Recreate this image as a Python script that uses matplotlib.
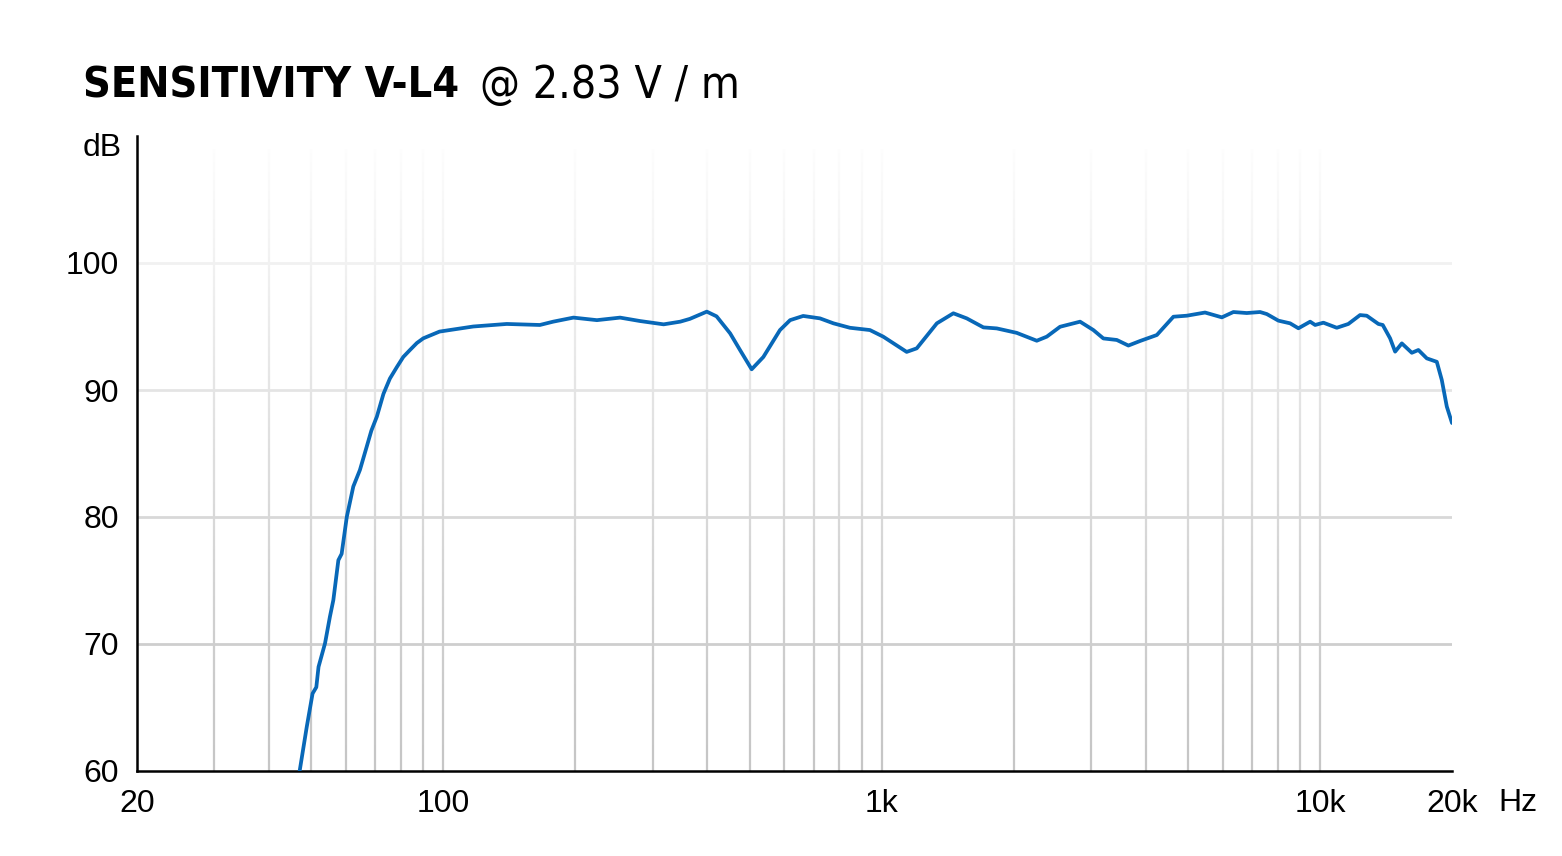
import numpy as np
import matplotlib
matplotlib.use('Agg')
import matplotlib.pyplot as plt

# Frequency response (Hz, dB)
freq = [47, 48.8, 50.3, 51.3, 51.9, 53.7, 55.1, 56.1, 57.6, 58.6, 60.2, 62.3,
        64.5, 66.8, 68.5, 70.5, 73, 75.5, 78.3, 81, 83.9, 87, 90, 98, 117,
        139.5, 166, 178, 198, 224, 253, 281, 318, 347, 365, 399, 420, 451, 475,
        505, 537, 586, 618, 662, 723, 776, 846, 940, 1008, 1140, 1202, 1336,
        1457, 1563, 1706, 1830, 2032, 2258, 2380, 2552, 2835, 3040, 3204,
        3438, 3654, 3886, 4243, 4629, 4965, 5466, 5970, 6343, 6804, 7298,
        7560, 8036, 8544, 8926, 9493, 9746, 10178, 10918, 11602, 12338, 12780,
        13588, 13900, 14448, 14834, 15366, 16194, 16764, 17522, 18464, 18952,
        19460, 20000]
spl = [60.0, 63.5, 66.1, 66.6, 68.2, 70.05, 72.15, 73.46, 76.6, 77.1, 80.0,
       82.4, 83.7, 85.5, 86.8, 87.9, 89.7, 90.9, 91.8, 92.6, 93.15, 93.7,
       94.07, 94.6, 95.0, 95.2, 95.12, 95.38, 95.7, 95.5, 95.7, 95.43, 95.17,
       95.38, 95.6, 96.17, 95.8, 94.46, 93.15, 91.63, 92.6, 94.72, 95.5, 95.83,
       95.64, 95.25, 94.9, 94.72, 94.2, 93.0, 93.28, 95.25, 96.04, 95.64,
       94.93, 94.85, 94.5, 93.88, 94.2, 94.98, 95.38, 94.72, 94.06, 93.94,
       93.5, 93.86, 94.33, 95.77, 95.85, 96.1, 95.72, 96.14, 96.06, 96.14,
       95.98, 95.46, 95.25, 94.86, 95.38, 95.12, 95.3, 94.9, 95.2, 95.9, 95.85,
       95.2, 95.12, 94.07, 93.02, 93.67, 92.93, 93.15, 92.49, 92.22, 90.8,
       88.7, 87.4]

xticks = [20, 100, 1000, 10000, 20000]
xtick_labels = ['20', '100', '1k', '10k', '20k']
yticks = [60, 70, 80, 90, 100]
vgrid = [30, 40, 50, 60, 70, 80, 90, 100, 200, 300, 400, 500, 600, 700, 800,
         900, 1000, 2000, 3000, 4000, 5000, 6000, 7000, 8000, 9000, 10000]

label_font = ['Liberation Sans', 'Arial', 'DejaVu Sans']
title_font = ['Liberation Sans Narrow', 'DejaVu Sans']

fig = plt.figure(figsize=(15.62, 8.56), dpi=100)
ax = fig.add_axes([137/1562, 1 - 771/856, 1315/1562, 635/856])

ax.set_xscale('log')

# grid, fading out towards the top with a white overlay
ax.vlines(vgrid, 60, 109, color='#c6c6c6', lw=1.6, zorder=1)
ax.hlines(yticks[1:], 20, 20000, color='#c6c6c6', lw=2.0, zorder=1)
grad = np.zeros((256, 1, 4))
grad[..., :3] = 1.0
grad[:, 0, 3] = np.linspace(0.0, 1.0, 256) ** 1.2
ax.imshow(grad, extent=[20, 20000, 60, 110], origin='lower', aspect='auto',
          interpolation='bilinear', zorder=1.5)
ax.set_xlim(20, 20000)
ax.set_ylim(60, 110)

ax.plot(freq, spl, color='#0868b8', lw=2.7, zorder=3,
        solid_joinstyle='round', solid_capstyle='round')

for s in ['top', 'right']:
    ax.spines[s].set_visible(False)
for s in ['left', 'bottom']:
    ax.spines[s].set_linewidth(1.8)
    ax.spines[s].set_color('black')

ax.set_xticks(xticks)
ax.set_xticklabels(xtick_labels)
ax.xaxis.set_minor_locator(matplotlib.ticker.NullLocator())
ax.set_yticks(yticks)
ax.tick_params(length=0, labelsize=23)
ax.tick_params(axis='x', pad=13)
ax.tick_params(axis='y', pad=13)
for lbl in ax.get_xticklabels() + ax.get_yticklabels():
    lbl.set_family(label_font)

fig.text(122/1562, 1 - 148/856, 'dB', ha='right', va='center', fontsize=23,
         family=label_font)
fig.text(1498/1562, 1 - 803/856, 'Hz', ha='left', va='center', fontsize=23,
         family=label_font)

# title
fig.text(83/1562, 1 - 98/856, 'SENSITIVITY V-L4', ha='left', va='baseline',
         fontsize=31, weight='heavy', stretch='condensed', family=title_font)
fig.text(480/1562, 1 - 98/856, '@ 2.83 V / m', ha='left', va='baseline',
         fontsize=32, weight='light', stretch='condensed', family=title_font)

fig.savefig('out.png', dpi=100)
